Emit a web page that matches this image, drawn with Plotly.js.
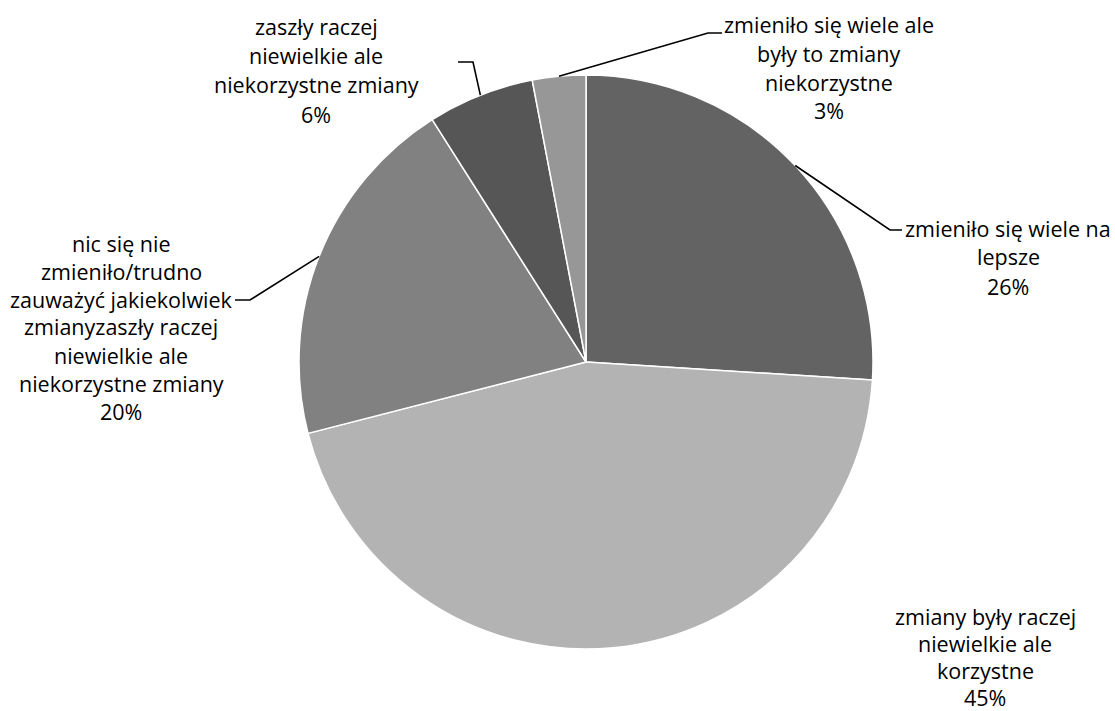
<!DOCTYPE html>
<html><head><meta charset="utf-8">
<script src="https://cdn.plot.ly/plotly-3.0.1.min.js"></script>
<style>html,body{margin:0;padding:0;background:#fff}#chart{width:1115px;height:711px}</style>
</head><body><div id="chart"></div>
<script>
const categories = [
  "zmieniło się wiele na lepsze",
  "zmiany były raczej niewielkie ale korzystne",
  "nic się nie zmieniło/trudno zauważyć jakiekolwiek zmianyzaszły raczej niewielkie ale niekorzystne zmiany",
  "zaszły raczej niewielkie ale niekorzystne zmiany",
  "zmieniło się wiele ale były to zmiany niekorzystne"
];
const values = [26, 45, 20, 6, 3];
const colors = ["#636363", "#b3b3b3", "#818181", "#565656", "#979797"];
const labelLines = [
  ["zmieniło się wiele na", "lepsze", "26%"],
  ["zmiany były raczej", "niewielkie ale", "korzystne", "45%"],
  ["nic się nie", "zmieniło/trudno", "zauważyć jakiekolwiek", "zmianyzaszły raczej", "niewielkie ale", "niekorzystne zmiany", "20%"],
  ["zaszły raczej", "niewielkie ale", "niekorzystne zmiany", "6%"],
  ["zmieniło się wiele ale", "były to zmiany", "niekorzystne", "3%"]
];

const W = 1115, H = 711;
const dom = {x: [299 / W, 873 / W], y: [(H - 649) / H, (H - 75) / H]};
// label layout (pixel positions): centre x, first line centre y, line step, leader elbow & end
const labelPos = [
  {x: 1008, y: 228, step: 29, elbow: [890, 230], end: [902, 230]},
  {x: 985, y: 616, step: 27, elbow: null, end: null},
  {x: 121, y: 243, step: 28, elbow: [250, 300], end: [235, 300]},
  {x: 316, y: 26, step: 29.5, elbow: [473, 62], end: [458, 62]},
  {x: 829, y: 25, step: 28.5, elbow: [708, 33], end: [722, 33]}
];

const font = {family: "Open Sans, Noto Sans, sans-serif", size: 21.5, color: "#000"};
const px2x = p => p / W, px2y = p => 1 - p / H;

const cx = (dom.x[0] + dom.x[1]) / 2 * W;
const cy = H - (dom.y[0] + dom.y[1]) / 2 * H;
const R = (dom.x[1] - dom.x[0]) * W / 2;
const total = values.reduce((a, b) => a + b, 0);

const annotations = [], shapes = [];
let cum = 0;
values.forEach((v, i) => {
  const a = 2 * Math.PI * (cum + v / 2) / total;
  cum += v;
  const lp = labelPos[i];
  labelLines[i].forEach((t, k) => {
    annotations.push({text: t, x: px2x(lp.x), y: px2y(lp.y + k * lp.step), xref: "paper", yref: "paper",
      xanchor: "center", yanchor: "middle", showarrow: false, font: font});
  });
  if (lp.elbow) {
    const sx = cx + R * Math.sin(a), sy = cy - R * Math.cos(a);
    shapes.push({type: "path", xref: "paper", yref: "paper",
      path: `M ${px2x(sx)} ${px2y(sy)} L ${px2x(lp.elbow[0])} ${px2y(lp.elbow[1])} L ${px2x(lp.end[0])} ${px2y(lp.end[1])}`,
      line: {color: "#000", width: 1.6}});
  }
});

const data = [{
  type: "pie",
  labels: categories,
  values: values,
  sort: false,
  direction: "clockwise",
  rotation: 0,
  textinfo: "none",
  hoverinfo: "label+percent",
  marker: {colors: colors, line: {color: "#ffffff", width: 1.5}},
  domain: dom,
  showlegend: false
}];

const layout = {
  width: W, height: H,
  margin: {l: 0, r: 0, t: 0, b: 0},
  paper_bgcolor: "#ffffff",
  showlegend: false,
  annotations: annotations,
  shapes: shapes
};

Plotly.newPlot("chart", data, layout, {displayModeBar: false, staticPlot: true});
</script>
</body></html>
